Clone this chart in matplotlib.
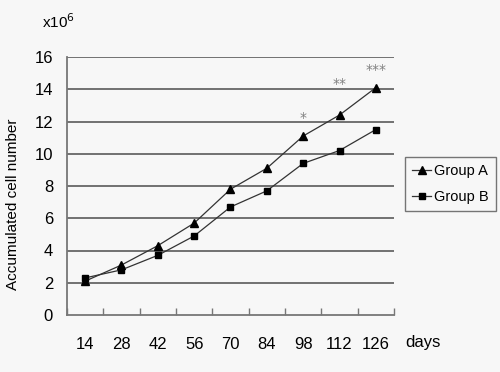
import numpy as np
import matplotlib
matplotlib.use('Agg')
from matplotlib import pyplot as plt

days = ['14', '28', '42', '56', '70', '84', '98', '112', '126']
group_a = [2.1, 3.1, 4.3, 5.7, 7.8, 9.1, 11.1, 12.4, 14.1]
group_b = [2.3, 2.8, 3.7, 4.9, 6.7, 7.7, 9.4, 10.2, 11.5]
stars = ['*', '**', '***']
star_pos = [6, 7, 8]
star_y = [12.2, 14.3, 15.2]

plt.rcParams['font.family'] = ['Liberation Sans', 'DejaVu Sans']
bg = '#f7f7f7'

fig = plt.figure(figsize=(5, 3.72), dpi=100, facecolor=bg)
ax = fig.add_axes([67 / 500, 1 - 315 / 372, 327 / 500, 258 / 372])
ax.set_facecolor(bg)

x = np.arange(len(days))
ax.set_xlim(-0.5, len(days) - 0.5)
ax.set_ylim(0, 16)
ax.set_yticks(np.arange(0, 17, 2))
for yv in np.arange(2, 17, 2):
    ax.axhline(yv, color='#666666', lw=1.3, zorder=1)

ax.plot(x, group_a, color='#333333', lw=0.9, marker='^', ms=6,
        mfc='black', mec='black', label='Group A', zorder=3)
ax.plot(x, group_b, color='#333333', lw=0.9, marker='s', ms=5,
        mfc='black', mec='black', label='Group B', zorder=3)

# significance marks
for s, p, yv in zip(stars, star_pos, star_y):
    ax.text(p, yv, s, ha='center', va='center', fontsize=10, color='#808080',
            family='DejaVu Sans')

ax.spines['top'].set_visible(False)
ax.spines['right'].set_visible(False)
ax.spines['left'].set_color('#777777')
ax.spines['bottom'].set_color('#777777')
ax.spines['left'].set_linewidth(1.3)
ax.spines['bottom'].set_linewidth(1.3)

ax.set_xticks(x)
ax.set_xticklabels(days)
ax.set_xticks(np.arange(-0.5, len(days), 1), minor=True)
ax.tick_params(axis='x', which='major', length=0, pad=16, labelsize=12)
ax.tick_params(axis='x', which='minor', direction='in', length=5,
               color='#777777', width=1)
ax.tick_params(axis='y', length=0, pad=10, labelsize=12)

ax.set_ylabel('Accumulated cell number', fontsize=11)
ax.yaxis.set_label_coords(-0.145, 0.43)
fig.text(42 / 500, 1 - 22 / 372, r'x10$^6$', fontsize=11, va='center')
fig.text(405 / 500, 1 - 342 / 372, 'days', fontsize=12, va='center')

leg = fig.legend(loc='upper left', bbox_to_anchor=(405 / 500, 1 - 157 / 372),
                 fontsize=10.5, frameon=True, fancybox=False, handlelength=1.3,
                 handletextpad=0.2, borderpad=0.5, labelspacing=0.8,
                 borderaxespad=0)
leg.get_frame().set_edgecolor('#555555')
leg.get_frame().set_facecolor(bg)
leg.get_frame().set_linewidth(1.0)

fig.savefig('out.png', dpi=100, facecolor=bg)
